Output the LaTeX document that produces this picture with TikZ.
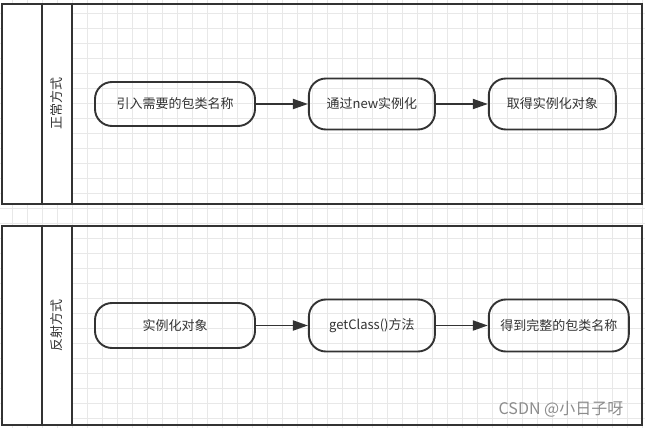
\documentclass[tikz,border=0pt]{standalone}
\usepackage{fontspec}
\setmainfont{Noto Sans CJK SC}
\usetikzlibrary{positioning, arrows.meta}
\definecolor{linegray}{HTML}{333333}
\definecolor{gridgray}{HTML}{E8E8E8}
\definecolor{markgray}{HTML}{8C8C8C}

\begin{document}
\begin{tikzpicture}[x=1pt, y=-1pt, node distance=52pt,
	>={Triangle[length=15pt, width=10pt]},
	flowbox/.style={draw=linegray, line width=1.9pt, rounded corners=17pt, inner sep=0pt, text=linegray, font=\fontsize{13}{15}\selectfont},
	flowarrow/.style={->, draw=linegray, line width=1.9pt},
	lanebox/.style={draw=linegray, line width=2pt},
	lanetitle/.style={rotate=90, text=linegray, font=\fontsize{13}{15}\selectfont},
	gridline/.style={draw=gridgray, line width=0.9pt}]
	
	\useasboundingbox[fill=white] (0,0) rectangle (645,428);
	
	% Background grid
	\foreach \gx in {12.3,27.3,...,645} \draw[gridline] (\gx,0) -- (\gx,428);
	\foreach \gy in {13.3,28.3,...,428} \draw[gridline] (0,\gy) -- (645,\gy);
	
	% Lanes
	\fill[white] (2,4) rectangle (72,203.5);
	\draw[lanebox] (2,4) rectangle (641.5,203.5);
	\draw[lanebox] (42,4) -- (42,203.5) (72,4) -- (72,203.5);
	\fill[white] (2,225.5) rectangle (72,425);
	\draw[lanebox] (2,225.5) rectangle (641.5,425);
	\draw[lanebox] (42,225.5) -- (42,425) (72,225.5) -- (72,425);
	
	\node [lanetitle] (normTitle) at (57,103) {正常方式};
	\node [lanetitle] (reflTitle) at (57,325) {反射方式};
	
	% Define nodes
	\node [flowbox, minimum width=160pt, minimum height=44pt] (normImport) at (175,104) {引入需要的包类名称};
	\node [flowbox, right=of normImport, minimum width=126pt, minimum height=51pt] (normNew) {通过new实例化};
	\node [flowbox, right=of normNew, minimum width=127pt, minimum height=51pt] (normObject) {取得实例化对象};
	
	\node [flowbox, minimum width=160pt, minimum height=45pt] (reflObject) at (175,325.5) {实例化对象};
	\node [flowbox, right=of reflObject, minimum width=126pt, minimum height=52pt] (reflGetClass) {getClass()方法};
	\node [flowbox, right=of reflGetClass, minimum width=140pt, minimum height=52pt] (reflFullName) {得到完整的包类名称};
	
	% Arrows between blocks
	\draw[flowarrow] (normImport) -- (normNew);
	\draw[flowarrow] (normNew) -- (normObject);
	\draw[flowarrow] (reflObject) -- (reflGetClass);
	\draw[flowarrow] (reflGetClass) -- (reflFullName);
	
	\node [text=markgray, font=\fontsize{16}{18}\selectfont] (watermark) at (561,409) {CSDN @小日子呀};
\end{tikzpicture}
\end{document}
